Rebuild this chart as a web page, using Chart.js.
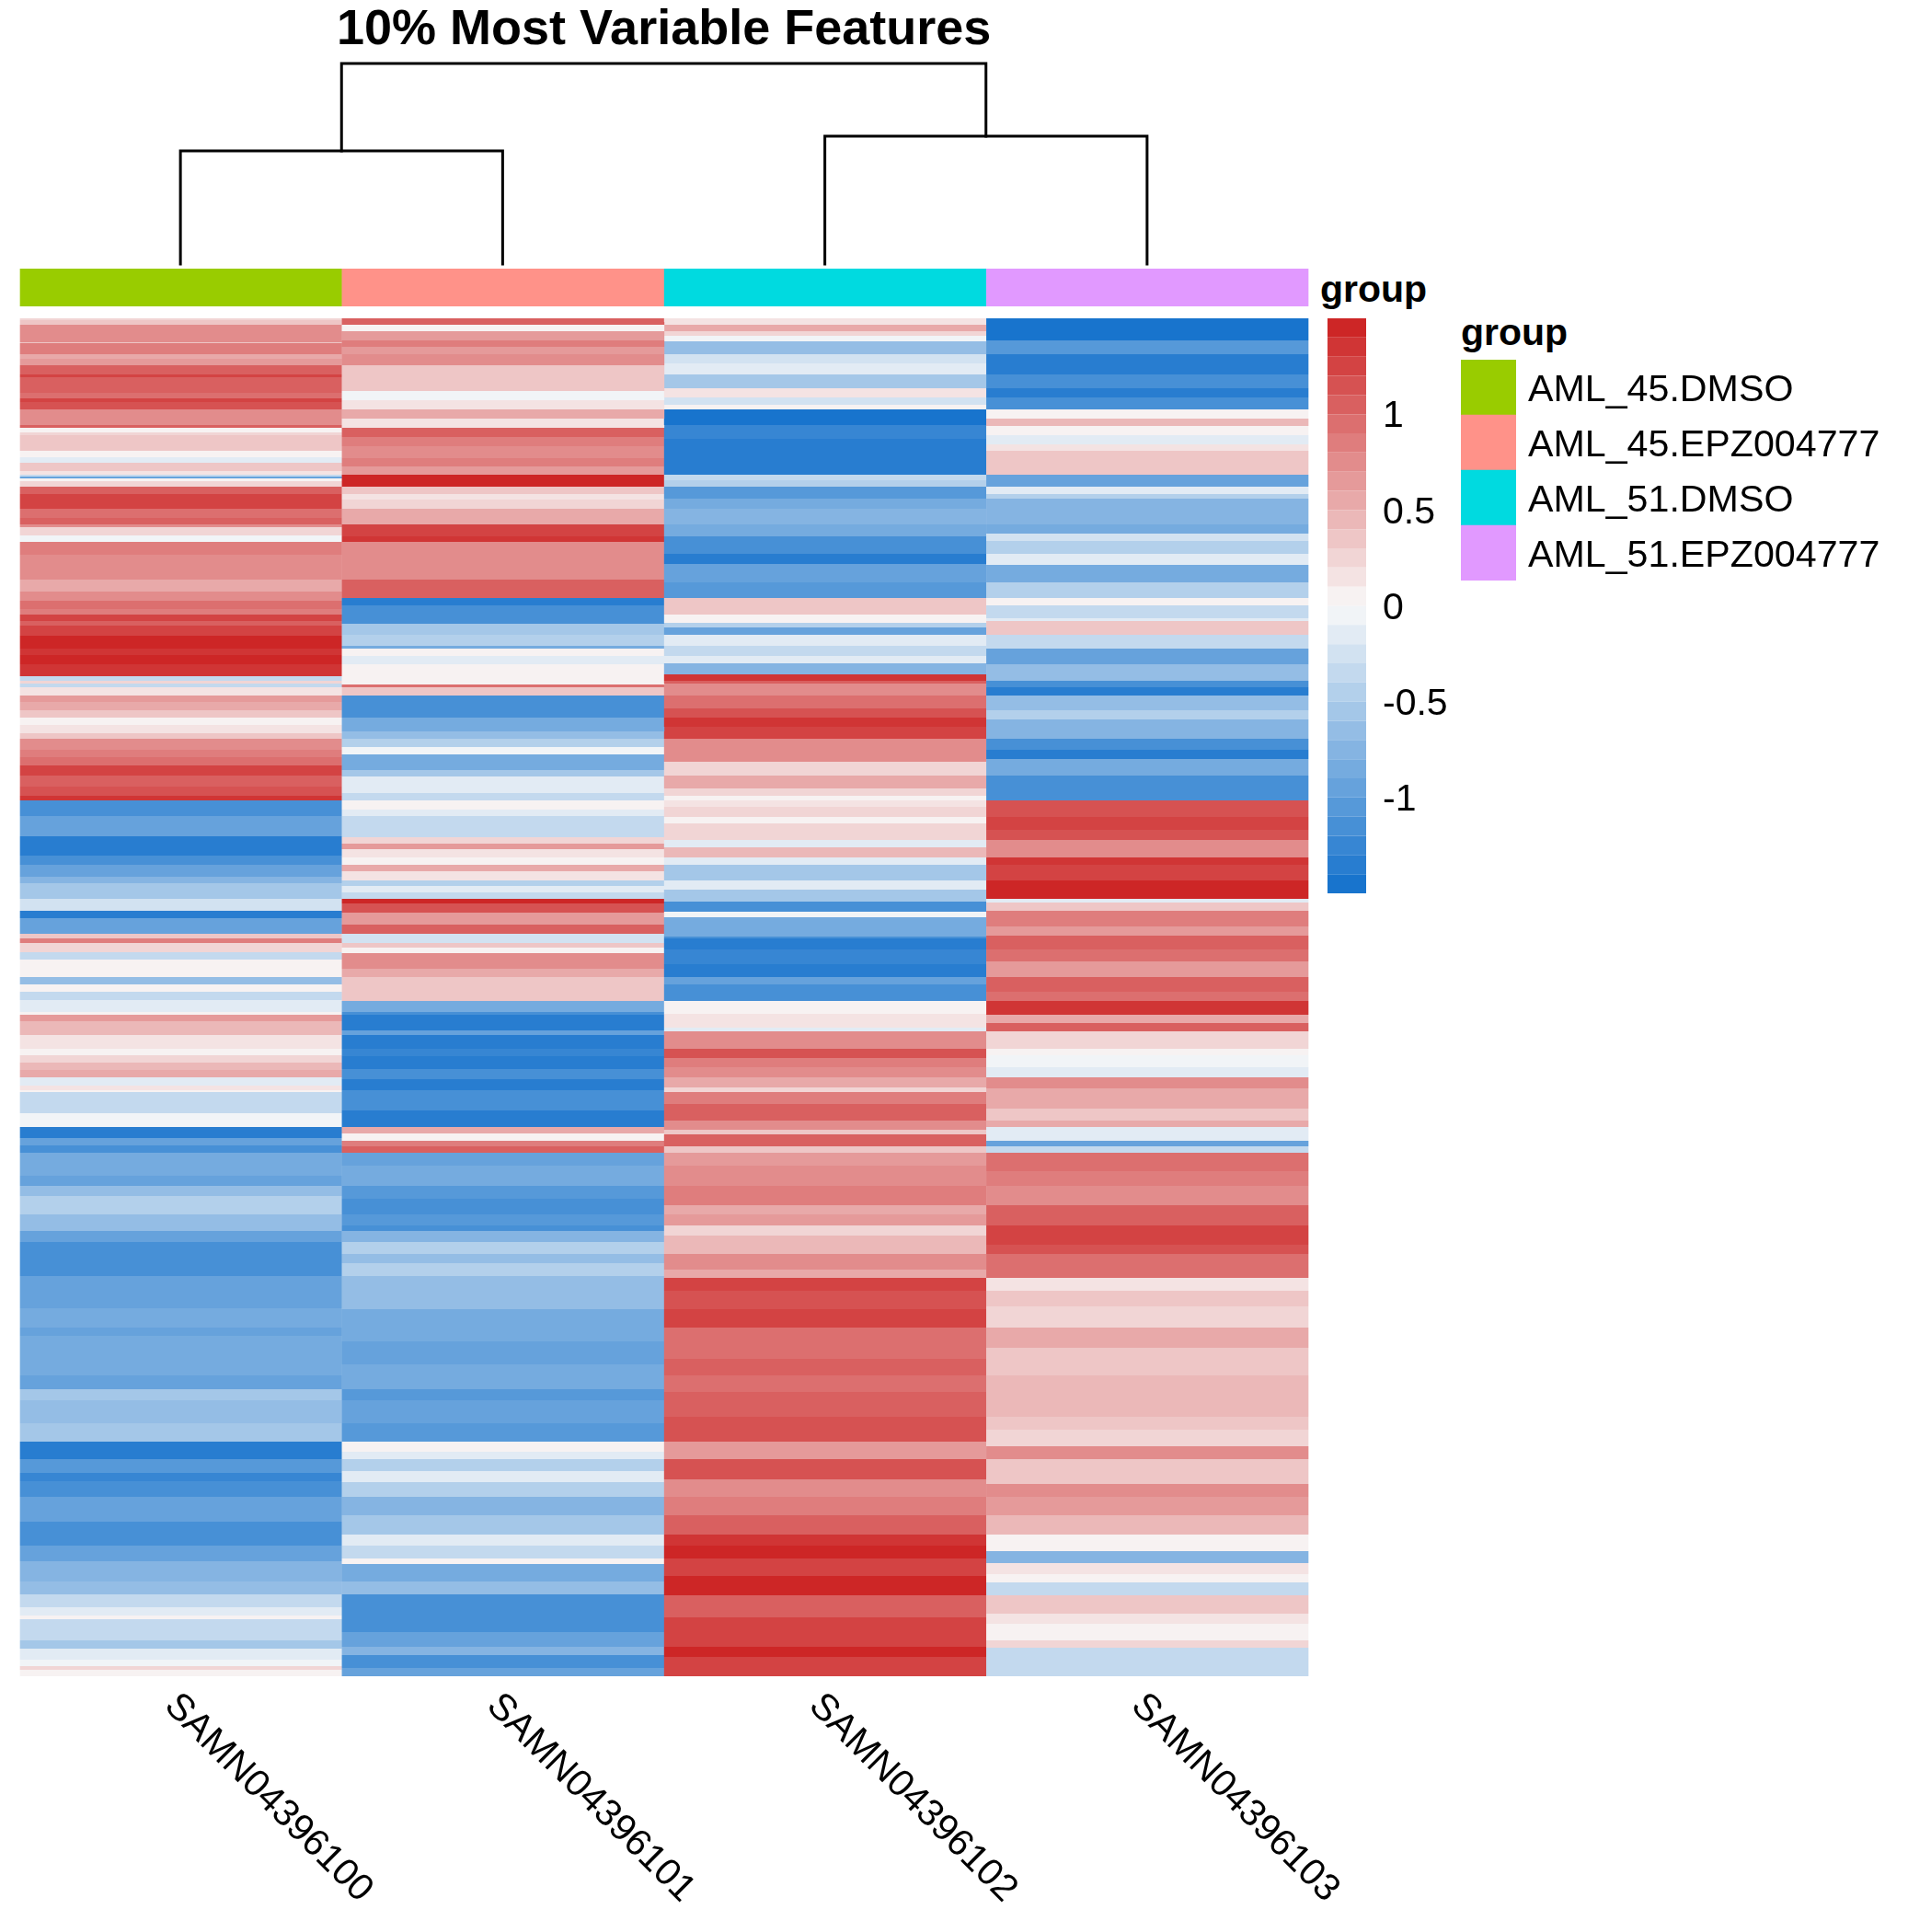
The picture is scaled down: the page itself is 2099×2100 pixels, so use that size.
<!DOCTYPE html>
<html><head><meta charset="utf-8">
<script src="https://cdn.jsdelivr.net/npm/chart.js@4"></script>
<style>
html,body{margin:0;padding:0;background:#fff;width:2099px;height:2100px;overflow:hidden}
canvas{position:absolute;display:block}
.t{position:absolute;font-family:"Liberation Sans",Arial,sans-serif;font-weight:bold;color:#000;white-space:nowrap;line-height:1}
</style></head><body>
<div class="t" id="title" style="left:366px;top:2px;font-size:54px">10% Most Variable Features</div>
<div class="t" style="left:1435px;top:294px;font-size:41px">group</div>
<div class="t" style="left:1588px;top:341px;font-size:41px">group</div>
<canvas id="dendro" width="1440" height="240" style="left:0;top:60px"></canvas>
<canvas id="anno" width="1402" height="41" style="left:21px;top:292px"></canvas>
<canvas id="heat" width="1480" height="1754" style="left:0;top:346px"></canvas>
<canvas id="cbar" width="142" height="640" style="left:1443px;top:346px"></canvas>
<canvas id="lgd" width="511" height="250" style="left:1588px;top:391px"></canvas>
<script>
const samples = ["SAMN04396100","SAMN04396101","SAMN04396102","SAMN04396103"];
const groups = ["AML_45.DMSO","AML_45.EPZ004777","AML_51.DMSO","AML_51.EPZ004777"];
const groupColors = ["#99CC00","#FF9289","#00DAE0","#E199FF"];
const colorTicks = [-1,-0.5,0,0.5,1];
const totalRows = 1476;
const seamRows = [39,224,409,594,779,964,1149,1334];

// last feature row of each band, and the z-score read for that band
const s100Ends = [2,7,16,26,27,39,44,51,61,64,81,87,91,99,109,116,119,124,127,136,144,151,157,166,170,172,174,177,183,191,207,217,224,227,236,243,257,284,297,307,316,322,329,334,345,359,366,376,389,394,397,401,410,417,426,434,442,451,457,469,477,486,497,509,519,524,541,551,563,584,594,607,614,631,644,652,669,674,679,689,697,716,724,732,741,754,757,764,779,794,801,809,817,825,834,839,841,849,859,864,879,891,899,907,932,943,954,974,992,1004,1027,1041,1057,1076,1097,1106,1137,1149,1164,1176,1201,1221,1240,1255,1264,1281,1308,1328,1334,1351,1373,1387,1401,1410,1414,1437,1446,1458,1465,1469,1476];
const s100Vals = [.2,.3,.7,.75,.4,.85,.5,.6,1,1.2,1.05,.95,1.2,1.15,.7,.8,1,.05,.25,.4,.35,.05,-.1,.4,.1,-.3,-.9,0,.2,1.05,1.2,.95,1.05,.8,.2,-.05,.85,.8,.5,.7,.95,.9,1.3,1,1.3,1.45,1.35,1.45,1.4,-.4,.2,-.4,.15,.65,.55,.35,0,.15,.4,.7,.85,.95,1.25,1,1.15,1.4,-1.2,-.95,-1,-1.4,-1.1,-1,-.75,-.6,-.25,-1.35,-1,.3,.85,.2,-.3,0,-.7,0,-.3,-.2,0,.65,.45,.1,.05,.25,.45,.55,-.15,.15,0,-.3,-.4,-.3,-.05,-1.4,-1,-1.1,-.85,-.95,-.65,-.45,-.7,-.95,-1.1,-1.15,-.9,-.95,-.85,-.9,-.8,-.85,-.9,-.6,-.65,-.55,-1.35,-1.05,-1.25,-1.15,-1,-1.1,-1.2,-.95,-.75,-.65,-.4,-.15,0,-.3,-.55,-.2,-.05,.25,0];

const s101Ends = [7,14,24,31,39,51,61,76,79,89,99,109,119,129,139,152,161,170,183,191,197,207,224,237,243,284,304,312,324,332,344,356,359,367,376,394,398,401,410,434,449,457,466,474,491,498,507,516,524,534,541,564,571,577,586,594,601,611,617,624,631,636,646,659,669,679,684,690,707,716,724,742,754,757,774,779,794,802,816,827,839,852,861,879,886,894,900,907,921,943,957,964,974,986,992,1004,1017,1027,1041,1057,1077,1112,1137,1149,1164,1176,1194,1201,1221,1232,1240,1253,1265,1281,1301,1322,1334,1348,1354,1373,1387,1412,1428,1444,1453,1467,1476];
const s101Vals = [1.05,.05,.6,.85,.6,.75,.35,.3,.4,-.05,.15,.55,.1,1.05,.9,.75,.9,.6,1.45,.3,.15,.25,.55,1.25,1.4,.7,1,-1.35,-1.1,-1.2,-.6,-.45,-.85,.05,-.2,0,.05,.95,.35,-1.1,-.8,-.7,-.5,-.05,-.85,-.6,-.2,-.1,-.4,0,-.2,-.35,.2,.6,.1,0,.5,.1,-.5,-.15,-.35,1.45,1.1,.65,1,-.25,.3,0,.75,.55,.3,.4,-.85,-1.1,-1.4,-.9,-1.35,-1.25,-1.35,-1.2,-1.35,-1.2,-1.1,-1.3,.5,.05,.9,1.05,-.95,-.85,-1.05,-1.2,-1.15,-1.05,-1.1,-.75,-.45,-.7,-.45,-.65,-.7,-.85,-.95,-.8,-.85,-1.05,-1,-.95,-1.05,0,-.2,-.45,-.2,-.45,-.75,-.55,-.1,-.4,.05,-.8,-.7,-1.2,-1.1,-.95,-.75,-1.1,-.95];

const s102Ends = [4,7,14,19,25,39,49,61,76,86,94,99,116,131,142,170,176,183,196,207,224,237,256,267,287,304,314,322,331,336,344,356,367,375,387,394,397,410,424,434,444,457,469,482,497,511,519,524,531,542,549,567,575,586,594,611,621,634,645,651,672,674,686,702,716,724,742,756,764,771,775,794,804,814,825,836,841,854,872,882,887,900,907,921,943,964,974,986,997,1017,1034,1043,1057,1077,1097,1131,1149,1167,1194,1221,1240,1262,1281,1301,1322,1334,1348,1367,1388,1412,1444,1455,1476];
const s102Vals = [.15,.1,.55,.2,-.05,-.65,-.25,-.2,-.55,.1,-.25,0,-1.45,-1.25,-1.35,-1.4,-.35,-.5,-1.05,-.8,-.75,-.85,-1.1,-1.35,-.9,-1.05,.4,.3,0,-.5,-1,-.2,-.4,-.1,-.75,1.35,1,.8,.95,1.1,1.35,1.2,.75,.7,.25,.5,.2,0,.1,.25,.03,.2,-.1,.45,-.2,-.6,-.1,-.6,-1.15,-.05,-.8,-1.1,-1.4,-1.25,-1.4,-.95,-1.2,0,.1,.15,-.2,.75,1.1,.85,.8,.5,.25,.9,1,.7,.3,1,.4,.65,.8,.85,.55,.6,.25,.45,.75,.55,1.3,1.15,1.25,.95,1.05,.95,1.05,1.15,.65,1.1,.7,.9,1,1.35,1.45,1.3,1.45,1.05,1.25,1.45,1.3];

const s103Ends = [24,39,61,76,86,99,109,117,127,137,144,157,170,183,191,196,224,234,242,256,268,287,304,312,326,329,344,359,376,394,401,410,426,436,457,469,479,497,524,542,556,567,586,594,611,631,635,644,661,671,686,699,716,732,742,757,766,775,794,801,814,825,837,859,872,879,894,900,907,927,943,964,986,1007,1017,1043,1057,1074,1097,1119,1149,1194,1208,1226,1240,1267,1281,1301,1322,1340,1353,1365,1374,1388,1408,1419,1437,1445,1476];
const s103Vals = [-1.45,-1.05,-1.3,-1.15,-1.3,-1.1,.05,.45,.03,-.15,.1,.35,.3,-.9,-.2,-.5,-.75,-.85,-.25,-.5,-.15,-.85,-.5,.05,-.3,-.15,.35,-.4,-1,-.65,-1.2,-1.4,-.65,-.45,-.75,-1.15,-1.3,-.8,-1.1,1.15,1.3,1.15,.75,1.35,1.3,1.45,-.1,.35,.9,.6,1,.95,.65,1.05,.95,1.4,.55,1,.2,0,-.05,-.2,.8,.5,.35,.5,-.2,-.9,-.4,.95,.85,.7,1,1.3,1.1,.95,.15,.35,.25,.55,.4,.45,.35,.2,.8,.3,.7,.6,.45,0,-.75,.15,0,-.3,.3,.1,.05,.2,-.3];

// dendrogram: merge heights (root = 1)
const leafX = [0.5,1.5,2.5,3.5];
const mergeLeftH = 0.564, mergeRightH = 0.638, rootH = 1;

const FONT = '"Liberation Sans",Arial,sans-serif';
Chart.defaults.font.family = FONT;
Chart.defaults.animation = false;
Chart.defaults.responsive = false;
Chart.defaults.devicePixelRatio = 1;
Chart.defaults.plugins.legend.display = false;
Chart.defaults.plugins.tooltip.enabled = false;

// 30-step palette
const BLUE=[24,116,205], MID=[249,249,249], RED=[205,38,38];
const palette=[];
for(let i=0;i<30;i++){
  const t=i/29*2; const a=t<1?BLUE:MID, b=t<1?MID:RED, f=t<1?t:t-1;
  palette.push(`rgb(${a.map((c,k)=>Math.round(c+(b[k]-c)*f)).join(',')})`);
}
const colorOf = v => palette[Math.max(0,Math.min(29,Math.floor((v+1.5)/0.1)))];

// nudges the axis labels down so their glyphs sit on the same line as the reference
const labelNudge = dy => ({id:'labelNudge',beforeDraw(c){
  c.scales.y.getLabelItems(c.chartArea).forEach(it=>{it.options.translation[1]+=dy;});
}});

// heatmap
const colEnds=[s100Ends,s101Ends,s102Ends,s103Ends], colVals=[s100Vals,s101Vals,s102Vals,s103Vals];
const nBands=Math.max(...colEnds.map(e=>e.length));
const heatSets=[];
for(let i=0;i<nBands;i++){
  heatSets.push({
    data: colEnds.map(e=> i<e.length ? [i?e[i-1]:0, e[i]] : null),
    backgroundColor: colVals.map(v=> i<v.length ? colorOf(v[i]) : 'rgba(0,0,0,0)'),
    borderWidth:0
  });
}
seamRows.forEach(r=>heatSets.push({data:samples.map(()=>[r,r+1]),backgroundColor:'#ffffff',borderWidth:0}));

const sampleLabels={id:'sampleLabels',afterDraw(c){
  const ctx=c.ctx,x=c.scales.x; ctx.save();
  ctx.font='41px '+FONT; ctx.fillStyle='#000'; ctx.textAlign='left'; ctx.textBaseline='middle';
  samples.forEach((s,i)=>{ctx.save();ctx.translate(x.getPixelForTick(i)-11.5,c.chartArea.bottom+26);ctx.rotate(Math.PI/4);ctx.fillText(s,0,0);ctx.restore();});
  ctx.restore();
}};
new Chart(document.getElementById('heat'),{type:'bar',
  data:{labels:samples,datasets:heatSets},
  options:{layout:{padding:{left:21.5,right:57.5,top:0,bottom:278}},
    datasets:{bar:{grouped:false,categoryPercentage:1,barPercentage:1.001}},
    scales:{x:{display:false},y:{display:false,reverse:true,min:0,max:totalRows}}},
  plugins:[sampleLabels]});

// annotation track
new Chart(document.getElementById('anno'),{type:'bar',
  data:{labels:samples,datasets:[{data:samples.map(()=>1),backgroundColor:groupColors,borderWidth:0,categoryPercentage:1,barPercentage:1.001}]},
  options:{layout:{padding:{left:0.5,right:0.5}},scales:{x:{display:false},y:{display:false,min:0,max:1}}}});

// dendrogram
const seg=(pts)=>({data:pts,showLine:true,pointRadius:0,borderColor:'#000',borderWidth:3,fill:false,clip:false,borderCapStyle:'square',borderJoinStyle:'miter'});
new Chart(document.getElementById('dendro'),{type:'scatter',
  data:{datasets:[
    seg([{x:leafX[0],y:0},{x:leafX[0],y:mergeLeftH},{x:leafX[1],y:mergeLeftH},{x:leafX[1],y:0}]),
    seg([{x:leafX[2],y:0},{x:leafX[2],y:mergeRightH},{x:leafX[3],y:mergeRightH},{x:leafX[3],y:0}]),
    seg([{x:1,y:mergeLeftH},{x:1,y:rootH},{x:3,y:rootH},{x:3,y:mergeRightH}])
  ]},
  options:{layout:{padding:{left:21,right:18,top:9,bottom:13}},
    scales:{x:{display:false,min:0,max:4},y:{display:false,min:0,max:1}}}});

// colour key
const cbarSets=palette.map((col,i)=>({data:[[-1.5+i*0.1,-1.5+(i+1)*0.1]],backgroundColor:col,borderWidth:0}));
new Chart(document.getElementById('cbar'),{type:'bar',
  data:{labels:['z'],datasets:cbarSets},
  options:{layout:{padding:{bottom:15}},datasets:{bar:{grouped:false,categoryPercentage:1,barPercentage:1.01}},
    scales:{x:{display:false},
      y:{position:'right',min:-1.5,max:1.5,grid:{display:false,drawTicks:false},border:{display:false},
        afterFit(s){s.width=100;s.paddingTop=0;s.paddingBottom=0;},
        afterBuildTicks(s){s.ticks=colorTicks.map(v=>({value:v}));},
        ticks:{padding:18,color:'#000',font:{size:41},autoSkip:false,callback:v=>String(v)}}}},
  plugins:[labelNudge(3)]});

// group legend
new Chart(document.getElementById('lgd'),{type:'bar',
  data:{labels:groups,datasets:[{data:groups.map(()=>1),backgroundColor:groupColors,borderWidth:0,categoryPercentage:1,barPercentage:1.01}]},
  options:{indexAxis:'y',layout:{padding:{bottom:10}},
    scales:{x:{display:false,min:0,max:1},
      y:{position:'right',grid:{display:false,drawTicks:false},border:{display:false},
        afterFit(s){s.width=451;s.paddingTop=0;s.paddingBottom=0;},
        ticks:{padding:13,color:'#000',font:{size:41.2},autoSkip:false}}}},
  plugins:[labelNudge(3.5)]});
</script>
</body></html>
